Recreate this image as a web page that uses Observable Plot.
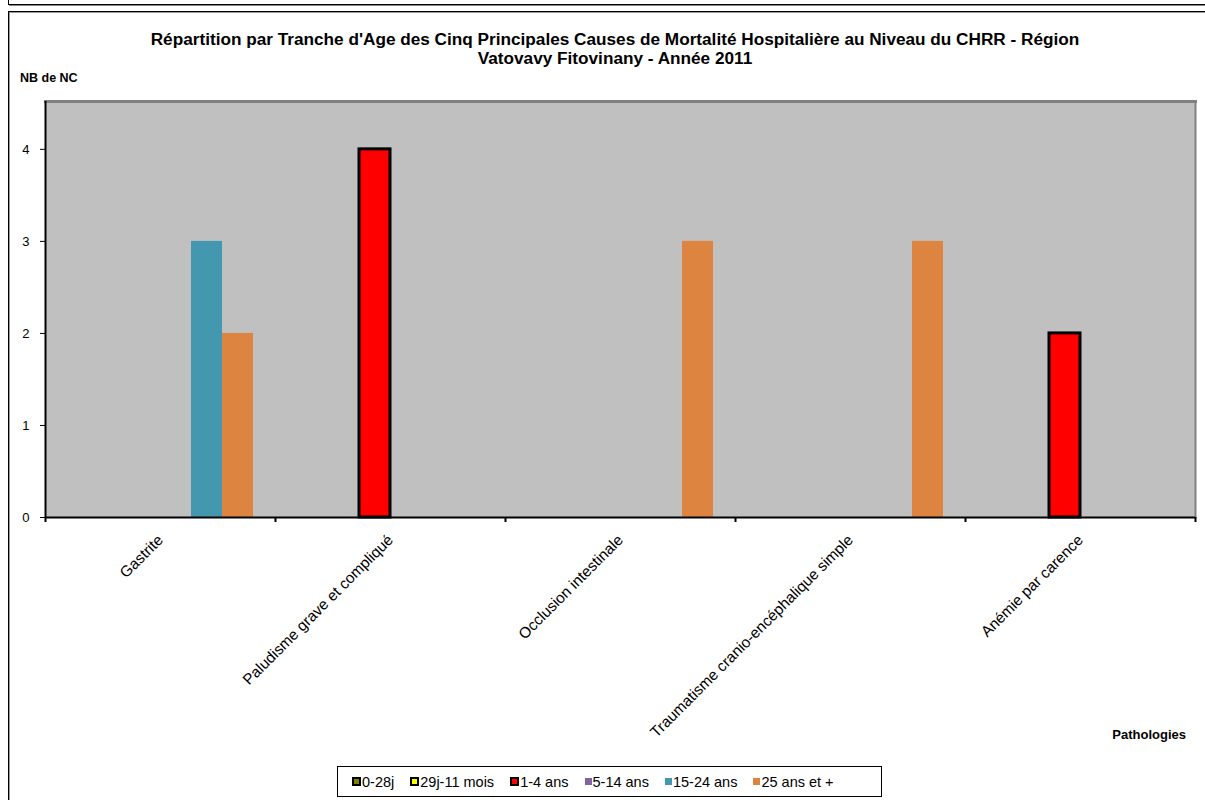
<!DOCTYPE html>
<html>
<head>
<meta charset="utf-8">
<script src="https://cdn.jsdelivr.net/npm/d3@7"></script>
<script src="https://cdn.jsdelivr.net/npm/@observablehq/plot@0.6"></script>
<style>
  html, body { margin: 0; padding: 0; background: #fff; }
  body { font-family: "Liberation Sans", Arial, sans-serif; }
  #root { position: relative; width: 1205px; height: 800px; overflow: hidden; }
  .abs { position: absolute; }
  #topbox { left: 8px; top: -10px; width: 1300px; height: 13px; border: 1px solid #000; box-shadow: 1px 1px 0 #888; }
  #chartbox { left: 8px; top: 11px; width: 1300px; height: 900px; border: 1px solid #000; box-shadow: inset 1px 1px 0 #999; }
  #title { left: 0; width: 1230px; top: 30px; text-align: center; font-weight: bold; font-size: 17.2px; line-height: 19px; color: #000; }
  #ylab { left: 20px; top: 71px; font-weight: bold; font-size: 12.5px; }
  #xlab { left: 1080px; width: 106px; text-align: right; top: 727px; font-weight: bold; font-size: 13px; }
  #chart { left: 0; top: 80px; }
  #legend { left: 337px; top: 766px; width: 545px; height: 31px; border: 1px solid #000; background: #fff;
            display: flex; align-items: center; font-size: 14.5px; box-sizing: border-box; padding-left: 14px; }
  .item { display: flex; align-items: center; margin-right: 16px; }
  .sw { width: 7px; height: 7px; margin-right: 1px; box-sizing: border-box; }
</style>
</head>
<body>
<div id="root">
  <div id="topbox" class="abs"></div>
  <div id="chartbox" class="abs"></div>
  <div id="title" class="abs">Répartition par Tranche d'Age des Cinq Principales Causes de Mortalité Hospitalière au Niveau du CHRR - Région<br>Vatovavy Fitovinany - Année 2011</div>
  <div id="ylab" class="abs">NB de NC</div>
  <div id="chart" class="abs"></div>
  <div id="xlab" class="abs">Pathologies</div>
  <div id="legend" class="abs"></div>
</div>
<script>
// ---- Data ----
const categories = ["Gastrite", "Paludisme grave et compliqué", "Occlusion intestinale", "Traumatisme cranio-encéphalique simple", "Anémie par carence"];
const series = ["0-28j", "29j-11 mois", "1-4 ans", "5-14 ans", "15-24 ans", "25 ans et +"];
const colors = ["#808000", "#ffff00", "#ff0000", "#8064a2", "#4398b0", "#dd8440"];
const outlined = ["0-28j", "29j-11 mois", "1-4 ans"];
const v_0_28j   = [0, 0, 0, 0, 0];
const v_29j_11m = [0, 0, 0, 0, 0];
const v_1_4     = [0, 4, 0, 0, 2];
const v_5_14    = [0, 0, 0, 0, 0];
const v_15_24   = [3, 0, 0, 0, 0];
const v_25plus  = [2, 0, 3, 3, 0];
const yTicks = [0, 1, 2, 3, 4];
const yMax = 4.52;

const seriesValues = [v_0_28j, v_29j_11m, v_1_4, v_5_14, v_15_24, v_25plus];

// Excel-like clustered layout: gap width between groups, in bar widths
const gapWidth = 1.42;
const bw = 1 / (series.length + gapWidth);
const rows = [];
categories.forEach((c, ci) => {
  series.forEach((s, si) => {
    const v = seriesValues[si][ci];
    if (v > 0) {
      const x1 = ci + (gapWidth / 2) * bw + si * bw;
      rows.push({category: c, series: s, value: v, x1, x2: x1 + bw});
    }
  });
});

const chart = Plot.plot({
  width: 1205,
  height: 700,
  marginLeft: 45,
  marginRight: 10,
  marginTop: 21,
  marginBottom: 263,
  style: {fontFamily: "'Liberation Sans', Arial, sans-serif", fontSize: "13px", background: "transparent", color: "#000"},
  x: {domain: [0, categories.length], axis: null},
  y: {domain: [0, yMax], axis: null},
  color: {domain: series, range: colors},
  marks: [
    Plot.frame({fill: "#c0c0c0", stroke: null}),
    Plot.frame({anchor: "top", stroke: "#808080", strokeWidth: 3}),
    Plot.frame({anchor: "right", stroke: "#808080", strokeWidth: 2}),
    Plot.rectY(rows, {x1: "x1", x2: "x2", y: "value", fill: "series"}),
    Plot.rectY(rows.filter(d => outlined.includes(d.series)), {x1: "x1", x2: "x2", y: "value", fill: "none", stroke: "#000", strokeWidth: 3}),
    Plot.ruleX([0], {stroke: "#000", strokeWidth: 2}),
    Plot.ruleY([0], {stroke: "#000", strokeWidth: 2}),
    Plot.axisY(yTicks, {tickSize: 5, tickPadding: 11, fontSize: 13, label: null, tickFormat: d => String(d)}),
    Plot.axisX(d3.range(categories.length + 1), {tickSize: 5, tickFormat: () => "", label: null, strokeWidth: 2}),
    Plot.axisX(categories.map((c, i) => i + 0.5), {tickSize: 0, tickPadding: 20, tickRotate: -45, fontSize: 15.3, label: null,
      tickFormat: (d) => categories[Math.floor(d)]})
  ]
});
document.getElementById("chart").appendChild(chart);

// Legend
const legend = document.getElementById("legend");
series.forEach((s, i) => {
  const item = document.createElement("div");
  item.className = "item";
  const sw = document.createElement("span");
  sw.className = "sw";
  sw.style.background = colors[i];
  if (outlined.includes(s)) { sw.style.border = "2px solid #000"; sw.style.width = "9px"; sw.style.height = "9px"; }
  const t = document.createElement("span");
  t.textContent = s;
  item.appendChild(sw); item.appendChild(t);
  legend.appendChild(item);
});
</script>
</body>
</html>
